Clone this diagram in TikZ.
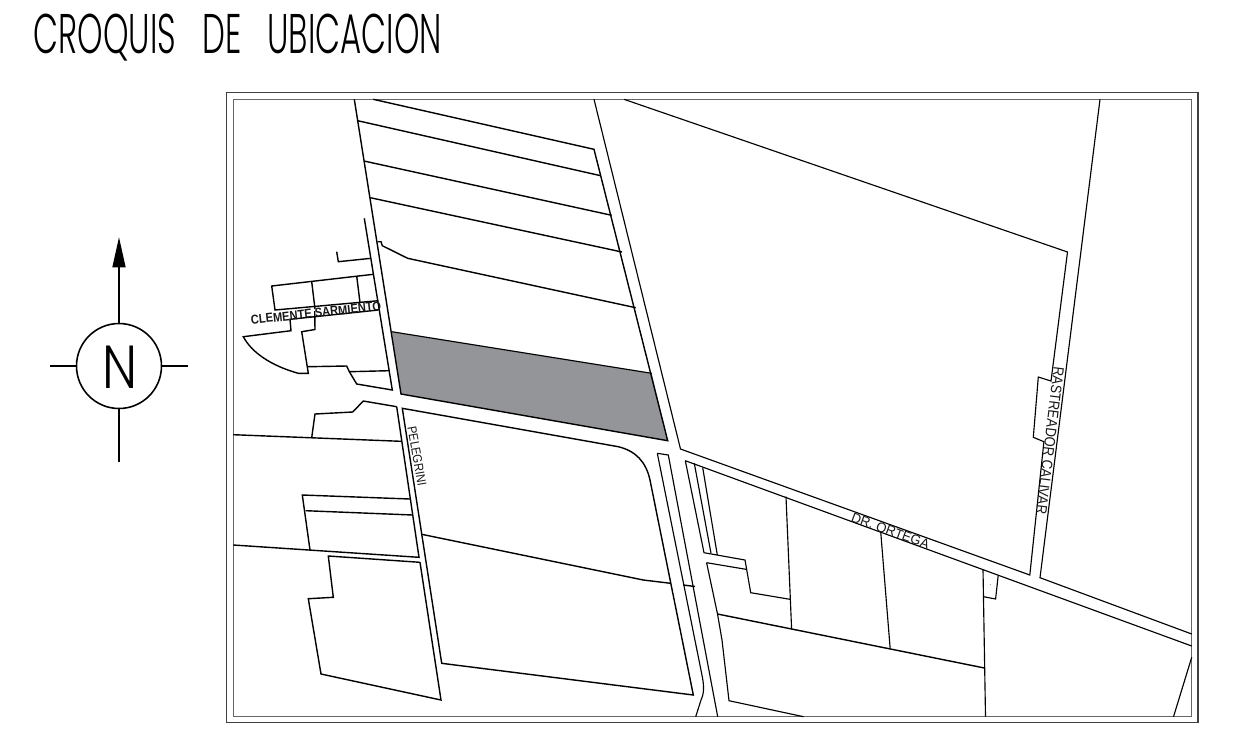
\documentclass[tikz,border=0pt]{standalone}
\usepackage{fontspec}
\usepackage{graphicx}
\setmainfont{Liberation Sans}
\newfontfamily\thinfont[UprightFont=* Light]{Poppins}
\definecolor{parcelgrey}{HTML}{939598}
\tikzset{
  plan/.style={black,line width=0.8pt,line join=miter},
  fine/.style={black,line width=0.65pt},
  street/.style={inner sep=0pt,text=black!90},
  titletext/.style={inner sep=0pt,anchor=west}
}
\begin{document}
\begin{tikzpicture}[x=0.02cm,y=-0.02cm]
\useasboundingbox (0,0) rectangle (1260,731);
\fill[white] (0,0) rectangle (1260,731);
% title
\node[titletext] (title) at (33.5,37.5) {\resizebox{8.16cm}{0.79cm}{\thinfont CROQUIS\hspace{0.8em}DE\hspace{0.8em}UBICACION}};
% frame
\draw[black!75,line width=0.85pt] (226.7,92.7) rectangle (1198,722.7);
\draw[black!60,line width=0.85pt] (233.3,99.3) rectangle (1191.7,716.7);
% parcel
\fill[parcelgrey] (391.7,331.7) -- (651.7,373.3) -- (667.7,440.7) -- (401,394) -- cycle;
% north symbol
\draw[line width=0.9pt] (119,366) circle[radius=0.85cm];
\draw[line width=0.9pt] (119,323.5) -- (119,265);
\fill (119,237.3) -- (125.7,267.3) -- (112.3,267.3) -- cycle;
\draw[line width=0.9pt] (50,366) -- (76.5,366);
\draw[line width=0.9pt] (161.5,366) -- (187.7,366);
\draw[line width=0.9pt] (119,408.5) -- (119,461.7);
\node[inner sep=0pt] (north) at (119.5,367) {\resizebox{0.7cm}{0.85cm}{\thinfont N}};
% upper blocks
\draw[plan] (354.3,99.3) -- (401,394) -- (667.7,440.7) -- (594,149.3) -- (373.3,99.3);
\draw[plan] (357.7,120.7) -- (600.7,175.7);
\draw[plan] (364,161) -- (611.7,215.3);
\draw[plan] (370.3,197.7) -- (622,252);
\draw[plan] (377.7,241.7) -- (381,241.7) -- (382.3,245.7) -- (407.7,258.3) -- (635.7,307.7);
\draw[fine] (391.7,331.7) -- (651.7,373.3);
% large block NE
\draw[fine] (594,99.3) -- (680.5,449) -- (1029.8,575) -- (1043.9,441.7) -- (1033.3,437.3) -- (1038.3,377) -- (1051,381) -- (1067.5,252) -- (624,99.3);
\draw[fine] (1100,99.3) -- (1040,577.7) -- (1191.7,634);
% Dr Ortega lower edge & SE blocks
\draw[fine] (685.3,460.7) -- (1191.7,646);
\draw[fine] (685.3,460.7) -- (704,552.7) -- (745,560) -- (750.7,592.7) -- (790,599.3);
\draw[fine] (694.3,463.3) -- (711,553.3);
\draw[fine] (702.7,467.7) -- (717.3,555);
\draw[fine] (786,496.7) -- (791.6,629);
\draw[fine] (706.6,562.7) -- (746,569.3);
\draw[fine] (706.6,562.7) -- (717.5,614) -- (722,640) -- (729,700.7) -- (803.6,716.7);
\draw[plan] (717.5,614) -- (984.4,668);
\draw[fine] (880.7,531.7) -- (890.2,649);
\draw[fine] (983,569.3) -- (985.5,716.7);
\draw[fine] (998.2,575.3) -- (995.6,599) -- (983.6,596.7);
\fill (990.2,584.3) circle[radius=0.4];
\draw[fine] (1191.7,657.3) -- (1173.5,716.7);
% median strip
\draw[fine] (657.3,453.3) -- (668.3,455) -- (717.7,716.7);
\draw[fine] (657.3,453.3) -- (702.3,676.7) .. controls (704.5,688) and (703.5,695) .. (701,700) -- (695.7,716.7);
\draw[plan] (683.3,585) -- (695,586.5);
% lower central block
\draw[plan] (402.3,408.3) -- (618.3,446.7) .. controls (636,451) and (646,462) .. (650,480) -- (693.3,695) -- (441.7,663.3) -- cycle;
\draw[plan] (421.7,534.3) -- (643.3,580) -- (670.7,583.3);
% west side
\draw[plan] (396.7,406.7) -- (419,557.3) -- (233.3,545);
\draw[plan] (420,562.3) -- (441,700) -- (321,674) -- (308.3,598.7) -- (333.3,597.3) -- (328.3,556) -- (420,562.3);
\draw[plan] (396.7,406.7) -- (363.3,401) -- (352.7,412) -- (315,414) -- (311.7,437.7);
\draw[plan] (233.3,434.7) -- (401,441.3);
\draw[plan] (410,499) -- (302.3,495) -- (310,550);
\draw[plan] (305.7,510.7) -- (412.7,515);
% north-west cluster
\draw[plan] (364.3,218.3) -- (392.3,390) -- (356.7,384) -- (349.3,371.7) -- (346.7,366) -- (307.7,366.7);
\draw[plan] (349.3,371.7) -- (389,370.7);
\draw[plan] (336.7,251.7) -- (338.3,261.7) -- (371,258.3);
\draw[plan] (373.3,274.3) -- (271.7,286) -- (275,310) -- (378.3,300.7);
\draw[plan] (311.7,281.7) -- (315,309);
\draw[plan] (356.7,276) -- (360,302.7);
\draw[plan] (378.3,310) -- (290,319.3) -- (291,330.7) -- (243.3,336.7) .. controls (252,353) and (272,366) .. (298.3,373.3) -- (308.3,373.3) -- (301.7,331.7) -- (315,329.5) -- (314.7,311);
% labels
\node[street,rotate=6.2] (clemente) at (316,313) {\resizebox{2.62cm}{0.18cm}{\bfseries CLEMENTE SARMIENTO}};
\node[street,rotate=-80] (pelegrini) at (417,456) {\resizebox{1.2cm}{0.18cm}{PELEGRINI}};
\node[street,rotate=-97] (rastreador) at (1050,440.5) {\resizebox{2.96cm}{0.21cm}{RASTREADOR CALIVAR}};
\node[street,rotate=-20] (ortega) at (890.5,531) {\resizebox{1.64cm}{0.19cm}{DR. ORTEGA}};
\end{tikzpicture}
\end{document}
